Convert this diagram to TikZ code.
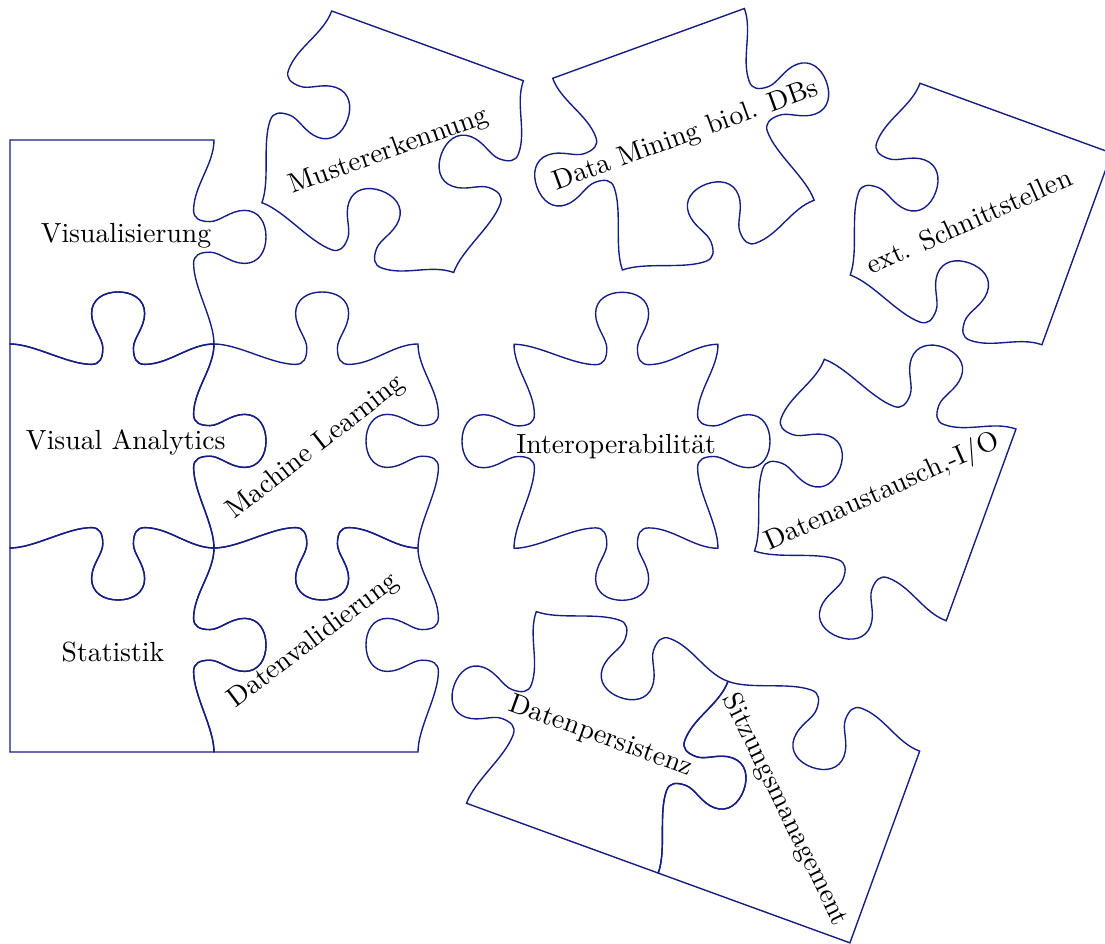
\documentclass[tikz,border=0pt]{standalone}
\definecolor{puzzleblue}{RGB}{20,30,130}

% One edge of a piece, running from (0,0) to (1,0) in its own frame
% (y grows downwards); #1 = 1 for a knob pointing out, -1 for a hole,
% #2 = position of the knob along the edge.
\newcommand\knobedge[2]{%
  .. controls (0.12,0) and ({#2-0.25},{0.10*(#1)}) .. ({#2-0.13},{0.10*(#1)})
  .. controls ({#2-0.09},{0.10*(#1)}) and ({#2-0.075},{0.07*(#1)}) .. ({#2-0.075},{0.02*(#1)})
  .. controls ({#2-0.075},{-0.03*(#1)}) and ({#2-0.13},{-0.08*(#1)}) .. ({#2-0.13},{-0.15*(#1)})
  .. controls ({#2-0.13},{-0.22*(#1)}) and ({#2-0.07},{-0.255*(#1)}) .. ({#2},{-0.255*(#1)})
  .. controls ({#2+0.07},{-0.255*(#1)}) and ({#2+0.13},{-0.22*(#1)}) .. ({#2+0.13},{-0.15*(#1)})
  .. controls ({#2+0.13},{-0.08*(#1)}) and ({#2+0.075},{-0.03*(#1)}) .. ({#2+0.075},{0.02*(#1)})
  .. controls ({#2+0.075},{0.07*(#1)}) and ({#2+0.09},{0.10*(#1)}) .. ({#2+0.13},{0.10*(#1)})
  .. controls ({#2+0.25},{0.10*(#1)}) and (0.88,0) .. (1,0)}
\newcommand\eout[1]{\knobedge{1}{#1}}
\newcommand\ein[1]{\knobedge{-1}{#1}}
\newcommand\eflat[1]{-- (1,0)}

% Outline of a unit piece: top, right, bottom, left edge
\newcommand\piecepath[4]{(0,0) #1{0.53}
  {[shift={(1,0)},rotate=-90] #2{0.475}}
  {[shift={(1,1)},rotate=180] #3{0.47}}
  {[shift={(0,1)},rotate=90] #4{0.525}} -- cycle}

% x, y of the top left corner, rotation, then the four edges
\newcommand\puzzlepiece[7]{%
  \begin{scope}[shift={(#1,#2)},rotate=#3,scale=204]
    \draw[piece] \piecepath{#4}{#5}{#6}{#7};
  \end{scope}}

\begin{document}
\begin{tikzpicture}[x=0.361pt,y=-0.361pt,
  piece/.style={draw=puzzleblue,line width=0.5pt},
  ptext/.style={inner sep=0pt,font=\normalsize}]
\useasboundingbox (0,0) rectangle (1105,944);

% assembled block on the left
\puzzlepiece{10}{140}{0}{\eflat}{\eout}{\ein}{\eflat}
\puzzlepiece{10}{344}{0}{\eout}{\eout}{\eout}{\eflat}
\puzzlepiece{10}{548}{0}{\ein}{\eout}{\eflat}{\eflat}
\puzzlepiece{214}{344}{0}{\eout}{\ein}{\eout}{\ein}
\puzzlepiece{214}{548}{0}{\ein}{\ein}{\eflat}{\ein}

% loose pieces
\puzzlepiece{331.7}{11}{-20}{\eflat}{\ein}{\ein}{\ein}
\puzzlepiece{552.7}{78.3}{20}{\eflat}{\eout}{\ein}{\eout}
\puzzlepiece{920}{83.3}{-20}{\eflat}{\eflat}{\ein}{\ein}
\puzzlepiece{514}{344.3}{0}{\eout}{\eout}{\eout}{\eout}
\puzzlepiece{824.3}{359.3}{-20}{\eout}{\eflat}{\eout}{\ein}
\puzzlepiece{536.3}{611.6}{-20}{\ein}{\eout}{\eflat}{\eout}
\puzzlepiece{728}{681.4}{-20}{\ein}{\eflat}{\eflat}{\ein}

% labels
\node[ptext,anchor=base] (visualisierung) at (126,242.7) {Visualisierung};
\node[ptext,anchor=base] (visanalytics) at (125.8,449.3) {Visual Analytics};
\node[ptext,anchor=base] (statistik) at (113,661.7) {Statistik};
\node[ptext,rotate=38] (ml) at (316,447.5) {Machine Learning};
\node[ptext,rotate=37] (validierung) at (313.3,640.8) {Datenvalidierung};
\node[ptext,rotate=20] (muster) at (389,151.7) {Mustererkennung};
\node[ptext,rotate=20] (mining) at (686,136) {Data Mining biol. DBs};
\node[ptext,rotate=24] (schnitt) at (969,221) {ext. Schnittstellen};
\node[ptext,anchor=base] (interop) at (616.2,453.3) {Interoperabilität};
\node[ptext,rotate=24] (austausch) at (882.5,492.5) {Datenaustausch,-I/O};
\node[ptext,rotate=-20] (persistenz) at (601,736.7) {Datenpersistenz};
\node[ptext,rotate=-64] (sitzung) at (785,810) {Sitzungsmanagement};
\end{tikzpicture}
\end{document}
